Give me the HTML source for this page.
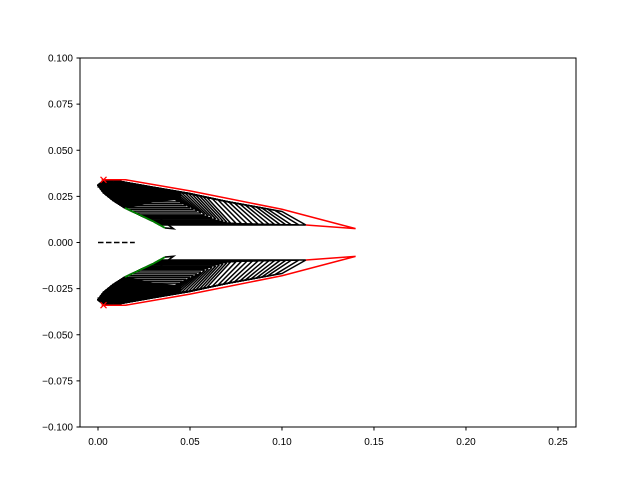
<!DOCTYPE html>
<html><head><meta charset="utf-8"><style>
body{margin:0;background:#fff;}
svg{display:block;font-family:"Liberation Sans",sans-serif;}
</style></head><body>
<svg id="c" width="640" height="480" xmlns="http://www.w3.org/2000/svg">
<rect x="0" y="0" width="640" height="480" fill="#fff"/>
<g id="plot"></g>
<rect x="80" y="58" width="496" height="369" fill="none" stroke="#000" stroke-width="1"/>
<g id="axes"></g>
</svg>
<script>
const xTicks=[0,0.05,0.10,0.15,0.20,0.25];
const xTickLabels=["0.00","0.05","0.10","0.15","0.20","0.25"];
const yTicks=[0.1,0.075,0.05,0.025,0,-0.025,-0.05,-0.075,-0.1];
const yTickLabels=["0.100","0.075","0.050","0.025","0.000","\u22120.025","\u22120.050","\u22120.075","\u22120.100"];
// member chords and bottom/tip heights (upper shape; lower mirrored)
const chord=[0.044,0.046,0.048,0.050,0.052,0.054,0.056,0.058,0.060,0.062,0.064,0.066,0.068,0.070,0.072,0.075,0.078,0.081,0.084,0.087,0.090,0.093,0.096,0.099,0.102,0.105,0.109,0.113];
const tipY=[0.022,0.021,0.020,0.019,0.018,0.017,0.016,0.015,0.0142,0.0134,0.0127,0.012,0.0115,0.011,0.0106,0.0104,0.0102,0.0101,0.010,0.010,0.0099,0.0098,0.0098,0.0097,0.0097,0.0096,0.0096,0.0095];
const smallTipX=[0.0364,0.041,0.034];
const smallTipY=[0.0079,0.0075,0.0125];
const upperCurveX=[0.0,0.003,0.01,0.03,0.05,0.07,0.1];
const upperCurveY=[0.031,0.0338,0.0335,0.030,0.027,0.023,0.018];
const noseX=[0.0,0.003,0.008,0.0147,0.0228,0.030,0.0364];
const noseY=[0.031,0.027,0.023,0.0187,0.0149,0.0115,0.0079];
const redX=[0.002,0.015,0.05,0.1,0.14,0.113];
const redY=[0.034,0.034,0.028,0.018,0.0075,0.0095];
const X0=-0.00978,X1=0.2598,Y0=-0.1,Y1=0.1;
const sx=v=>80+(v-X0)/(X1-X0)*496, sy=v=>427-(v-Y0)/(Y1-Y0)*369;
const NS="http://www.w3.org/2000/svg";
const plot=document.getElementById('plot'),axes=document.getElementById('axes');
function mk(tag,attrs,parent){const e=document.createElementNS(NS,tag);for(const k in attrs)e.setAttribute(k,attrs[k]);parent.appendChild(e);return e;}
function interp(xs,ys,x){for(let i=0;i<xs.length-1;i++){if(x<=xs[i+1]){const t=(x-xs[i])/(xs[i+1]-xs[i]);return ys[i]+t*(ys[i+1]-ys[i]);}}return ys[ys.length-1];}
function noseAt(y){for(let i=0;i<noseY.length-1;i++){if(y>=noseY[i+1]){const t=(noseY[i]-y)/(noseY[i]-noseY[i+1]);return noseX[i]+t*(noseX[i+1]-noseX[i]);}}return noseX[noseX.length-1];}
function pts(arr,s){return arr.map(p=>sx(p[0]).toFixed(2)+','+sy(s*p[1]).toFixed(2)).join(' ');}
[1,-1].forEach(s=>{
  const fillPts=[];
  for(let k=0;k<=20;k++){const x=k/20*0.045;fillPts.push([x,interp(upperCurveX,upperCurveY,x)-0.0008]);}
  fillPts.push([0.045,0.0235]);fillPts.push([0.03,0.022]);fillPts.push([0.017,0.019]);
  for(let j=noseX.length-1;j>=0;j--){if(noseX[j]<0.016)fillPts.push([noseX[j],noseY[j]]);}
  const fp=mk('polygon',{points:pts(fillPts,s),fill:'#000',stroke:'#000','stroke-width':1},plot);
  
  
  for(let i=0;i<chord.length;i++){
    const c=chord[i],ty=tipY[i],ux=c-0.013,dx=noseAt(ty);
    const poly=[[c,ty],[dx,ty]];
    for(let j=noseX.length-1;j>=0;j--){if(noseX[j]<dx)poly.push([noseX[j],noseY[j]]);}
    const f=i/(chord.length-1);
    for(let k=1;k<=20;k++){const x=k/20*ux;poly.push([x,interp(upperCurveX,upperCurveY,x)-0.0012*f*(x/ux)]);}
    poly.push([c,ty]);
    const e=mk('polyline',{points:pts(poly,s),fill:'none',stroke:'#000','stroke-width':1.5,'stroke-linejoin':'round'},plot);
    
    
  }
  const st=mk('polyline',{points:pts(smallTipX.map((x,i)=>[x,smallTipY[i]]),s),fill:'none',stroke:'#000','stroke-width':1.6},plot);
  
  
  const g=mk('polyline',{points:pts([[0.0147,0.0187],[0.0228,0.0149],[0.030,0.0115],[0.0364,0.0079]],s),fill:'none',stroke:'#008000','stroke-width':1.8},plot);
  
  
  const r=mk('polyline',{points:pts(redX.map((x,i)=>[x,redY[i]]),s),fill:'none',stroke:'#ff0000','stroke-width':1.5},plot);
  
  
  const mx=sx(0.003),my=sy(s*0.034);
  const m=mk('path',{d:`M${mx-3},${my-3}L${mx+3},${my+3}M${mx-3},${my+3}L${mx+3},${my-3}`,stroke:'#ff0000','stroke-width':1.2},plot);
  
  
});
const d=mk('line',{x1:sx(0),y1:sy(0),x2:sx(0.02),y2:sy(0),stroke:'#000','stroke-width':1.5,'stroke-dasharray':'5.5,2.5'},plot);


xTicks.forEach((v,i)=>{
  const x=sx(v);
  const t=mk('line',{x1:x,y1:427,x2:x,y2:430.5,stroke:'#000'},axes);
  
  
  const l=mk('text',{x:x,y:445,'font-size':10,'text-anchor':'middle'},axes);
  l.textContent=xTickLabels[i];
  
  
});
yTicks.forEach((v,i)=>{
  const y=sy(v);
  const t=mk('line',{x1:76.5,y1:y,x2:80,y2:y,stroke:'#000'},axes);
  
  
  const l=mk('text',{x:73,y:y+3.5,'font-size':10,'text-anchor':'end'},axes);
  l.textContent=yTickLabels[i];
  
  
});
</script>
</body></html>
